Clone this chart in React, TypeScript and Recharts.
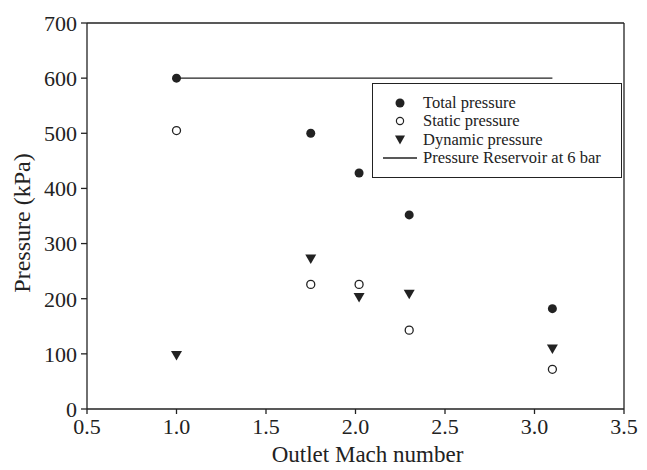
import { ScatterChart, Scatter, XAxis, YAxis, ReferenceLine } from 'recharts'

// Outlet Mach number of each test point
const machTotal = [1.0, 1.75, 2.02, 2.3, 3.1]
const totalPressure = [600, 500, 428, 352, 182]

const machStatic = [1.0, 1.75, 2.02, 2.3, 3.1]
const staticPressure = [505, 226, 226, 143, 72]

const machDynamic = [1.0, 1.75, 2.02, 2.3, 3.1]
const dynamicPressure = [97, 272, 202, 208, 109]

const machReservoir = [1.0, 3.1]
const reservoirPressure = [600, 600]

const xTicks = [0.5, 1.0, 1.5, 2.0, 2.5, 3.0, 3.5]
const yTicks = [0, 100, 200, 300, 400, 500, 600, 700]

const legendItems = ['Total pressure', 'Static pressure', 'Dynamic pressure', 'Pressure Reservoir at 6 bar']

const FONT = '"Liberation Serif", "DejaVu Serif", serif'
const INK = '#222'

const toPoints = (xs: number[], ys: number[]) => xs.map((x, i) => ({ x, y: ys[i] }))

const FilledDot = (props: any) => <circle cx={props.cx} cy={props.cy} r={4.5} fill={INK} />
const OpenDot = (props: any) => (
  <circle cx={props.cx} cy={props.cy} r={4} fill="#fff" stroke={INK} strokeWidth={1.3} />
)
const DownTriangle = (props: any) => {
  const { cx, cy } = props
  return <path d={`M${cx - 5.5},${cy - 4.5} L${cx + 5.5},${cy - 4.5} L${cx},${cy + 5} Z`} fill={INK} />
}

// axis titles placed relative to the plot area viewBox
const XTitle = ({ viewBox }: any) => (
  <text x={viewBox.x + viewBox.width / 2 + 12} y={462} textAnchor="middle" fontFamily={FONT} fontSize={23} fill={INK}>
    Outlet Mach number
  </text>
)
const YTitle = ({ viewBox }: any) => {
  const cx = 30
  const cy = viewBox.y + viewBox.height / 2 + 7
  return (
    <text x={cx} y={cy} transform={`rotate(-90, ${cx}, ${cy})`} textAnchor="middle" fontFamily={FONT} fontSize={24} fill={INK}>
      Pressure (kPa)
    </text>
  )
}

function LegendBox() {
  const symbols = [
    <circle cx={17} cy={9} r={4.5} fill={INK} />,
    <circle cx={17} cy={9} r={3.6} fill="#fff" stroke={INK} strokeWidth={1.2} />,
    <path d="M12,4.5 L22,4.5 L17,13.5 Z" fill={INK} />,
    <line x1={0} y1={9} x2={34} y2={9} stroke={INK} strokeWidth={1.3} />,
  ]
  return (
    <div
      style={{
        position: 'absolute',
        left: 372,
        top: 83,
        border: `1px solid ${INK}`,
        background: '#fff',
        width: 250,
        height: 95,
        boxSizing: 'border-box',
        paddingTop: 10,
        fontFamily: FONT,
        fontSize: 16.5,
        color: INK,
      }}
    >
      {legendItems.map((label, i) => (
        <div key={label} style={{ display: 'flex', alignItems: 'center', height: 18.3, paddingLeft: 10 }}>
          <svg width={40} height={18} style={{ flexShrink: 0 }}>
            {symbols[i]}
          </svg>
          <span style={{ lineHeight: '18px', whiteSpace: 'nowrap' }}>{label}</span>
        </div>
      ))}
    </div>
  )
}

export default function App() {
  const tickStyle = { fontFamily: FONT, fontSize: 22, fill: INK }

  return (
    <div style={{ position: 'absolute', left: 0, top: 0, width: 647, height: 470, background: '#fff' }}>
      <ScatterChart width={647} height={470} margin={{ top: 23, right: 23, bottom: 0, left: 0 }}>
        <XAxis
          type="number"
          dataKey="x"
          domain={[0.5, 3.5]}
          ticks={xTicks}
          tickFormatter={(v: number) => v.toFixed(1)}
          tick={tickStyle}
          stroke={INK}
          strokeWidth={1.3}
          tickSize={5}
          tickMargin={4}
          height={61}
          allowDataOverflow
          label={{ content: XTitle }}
        />
        <YAxis
          type="number"
          dataKey="y"
          domain={[0, 700]}
          ticks={yTicks}
          tick={tickStyle}
          stroke={INK}
          strokeWidth={1.3}
          tickSize={6}
          tickMargin={4}
          width={87}
          allowDataOverflow
          label={{ content: YTitle }}
        />
        <ReferenceLine y={700} stroke={INK} strokeWidth={1.3} />
        <ReferenceLine x={3.5} stroke={INK} strokeWidth={1.3} />
        <Scatter
          data={toPoints(machReservoir, reservoirPressure)}
          line={{ stroke: INK, strokeWidth: 1.3 }}
          shape={() => <g />}
          isAnimationActive={false}
        />
        <Scatter data={toPoints(machStatic, staticPressure)} shape={OpenDot} isAnimationActive={false} />
        <Scatter data={toPoints(machDynamic, dynamicPressure)} shape={DownTriangle} isAnimationActive={false} />
        <Scatter data={toPoints(machTotal, totalPressure)} shape={FilledDot} isAnimationActive={false} />
      </ScatterChart>
      <LegendBox />
    </div>
  )
}
